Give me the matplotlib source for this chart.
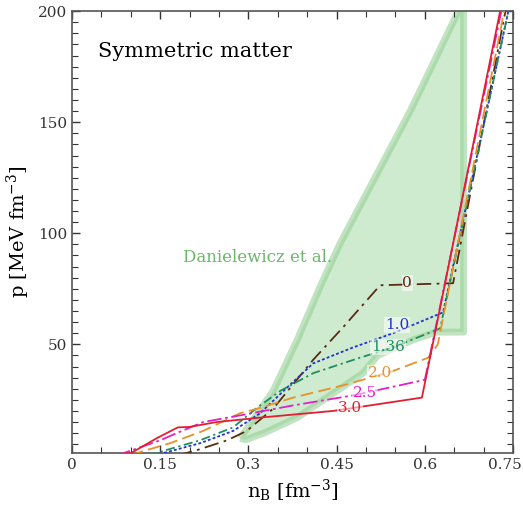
import numpy as np
import matplotlib
matplotlib.use("Agg")
import matplotlib.pyplot as plt
import matplotlib.transforms as mtrans
from matplotlib.ticker import MultipleLocator, FixedLocator

plt.rcParams['font.family'] = ['DejaVu Serif']
plt.rcParams['mathtext.fontset'] = 'dejavuserif'

# ---- data ----
# Danielewicz et al. band (outline, clockwise)
band_upper_x = [0.286, 0.342, 0.383, 0.422, 0.456, 0.495, 0.575, 0.657, 0.659]
band_upper_y = [7.7, 29.0, 52.0, 76.0, 95.5, 115.0, 155.0, 200.0, 215.0]
band_right_x = [0.666, 0.666, 0.620]
band_right_y = [215.0, 55.5, 55.5]
band_lower_x = [0.580, 0.520, 0.495, 0.439, 0.383, 0.326, 0.295]
band_lower_y = [52.0, 45.0, 37.0, 27.0, 17.0, 10.0, 7.0]

# curves labelled by parameter value
labels = ['0', '1.0', '1.36', '2.0', '2.5', '3.0']
nb_0 = [0.180, 0.213, 0.264, 0.297, 0.342, 0.410, 0.461, 0.524, 0.648, 0.737]
p_0 = [0.0, 2.4, 6.8, 11.0, 21.0, 43.0, 57.7, 76.6, 77.5, 200.0]
nb_10 = [0.140, 0.155, 0.218, 0.274, 0.320, 0.366, 0.410, 0.478, 0.546, 0.631, 0.742]
p_10 = [0.0, 1.0, 5.5, 11.0, 19.0, 30.6, 41.4, 48.6, 55.0, 64.4, 200.0]
nb_136 = [0.130, 0.150, 0.218, 0.274, 0.315, 0.354, 0.410, 0.490, 0.546, 0.626, 0.742]
p_136 = [0.0, 1.6, 6.8, 12.6, 21.5, 29.0, 37.0, 44.0, 48.6, 57.2, 200.0]
nb_20 = [0.100, 0.116, 0.167, 0.223, 0.286, 0.315, 0.376, 0.468, 0.546, 0.606, 0.622, 0.735]
p_20 = [0.0, 1.5, 5.5, 11.0, 19.0, 21.0, 26.0, 32.0, 38.0, 44.0, 50.0, 200.0]
nb_25 = [0.075, 0.093, 0.150, 0.178, 0.223, 0.286, 0.376, 0.478, 0.600, 0.730]
p_25 = [0.0, 1.5, 6.8, 10.0, 15.0, 18.0, 22.5, 27.0, 34.0, 200.0]
nb_30 = [0.050, 0.100, 0.144, 0.180, 0.200, 0.246, 0.320, 0.444, 0.595, 0.728]
p_30 = [0.0, 1.0, 7.7, 12.6, 12.8, 15.0, 17.0, 20.0, 26.0, 200.0]

# label positions
lab_x = [0.570, 0.553, 0.537, 0.524, 0.498, 0.473]
lab_y = [77.6, 58.6, 48.7, 37.0, 28.0, 21.1]

xticks = [0, 0.15, 0.3, 0.45, 0.6, 0.75]
xticklabels = ['0', '0.15', '0.3', '0.45', '0.6', '0.75']
yticks = [50, 100, 150, 200]

colors = ['#5c2a10', '#2233cc', '#1f8f5f', '#e8902a', '#e020c8', '#e02030']
styles = [(0, (8, 3, 1.5, 3)), (0, (1.6, 1.2)), (0, (5, 2, 1.2, 2)),
          (0, (7, 3)), (0, (8, 2, 1.5, 2)), '-']

fig = plt.figure(figsize=(5.23, 5.08), dpi=100)
ax = fig.add_axes([0.1377, 0.108, 0.8433, 0.870])

bx = band_upper_x + band_right_x + band_lower_x
by = band_upper_y + band_right_y + band_lower_y
ax.fill(bx, by, facecolor='#a8dca8', alpha=0.55, edgecolor='none', zorder=1)
ax.fill(bx, by, facecolor='none', edgecolor='#8fcc8f', alpha=0.55, lw=5,
        joinstyle='round', zorder=1)

curves = [(nb_0, p_0), (nb_10, p_10), (nb_136, p_136), (nb_20, p_20),
          (nb_25, p_25), (nb_30, p_30)]
for (x, y), c, ls in zip(curves, colors, styles):
    ax.plot(x, y, color=c, ls=ls, lw=1.3, zorder=3)

for t, x, y, c in zip(labels, lab_x, lab_y, colors):
    ax.text(x, y, t, color=c, fontsize=11, ha='center', va='center', zorder=4,
            bbox=dict(boxstyle='square,pad=0.05', fc='white', ec='none', alpha=0.55))

ax.text(0.045, 182, 'Symmetric matter', fontsize=15, ha='left', va='center')
ax.text(0.315, 89, 'Danielewicz et al.', fontsize=12, color='#6ab86a',
        ha='center', va='center')

ax.set_xlim(0, 0.75)
ax.set_ylim(1, 200)
ax.xaxis.set_major_locator(FixedLocator(xticks))
ax.set_xticklabels(xticklabels)
ax.xaxis.set_minor_locator(MultipleLocator(0.05))
ax.yaxis.set_major_locator(FixedLocator(yticks))
ax.yaxis.set_minor_locator(MultipleLocator(5))
ax.tick_params(which='both', direction='in', top=True, right=True,
               labelsize=11, colors='#333333')
ax.tick_params(which='major', length=6, width=1)
ax.tick_params(which='minor', length=4, width=0.8)
for s in ax.spines.values():
    s.set_color('#555555')
    s.set_linewidth(1.2)

# last x tick label sits a bit to the left so it fits in the figure
last = ax.get_xticklabels()[-1]
last.set_transform(last.get_transform() +
                   mtrans.ScaledTranslation(-8 / 100, 0, fig.dpi_scale_trans))

ax.set_xlabel(r'n$_\mathrm{B}$ [fm$^{-3}$]', fontsize=14)
ax.set_ylabel(r'p [MeV fm$^{-3}$]', fontsize=14)

fig.savefig('out.png', dpi=100)
